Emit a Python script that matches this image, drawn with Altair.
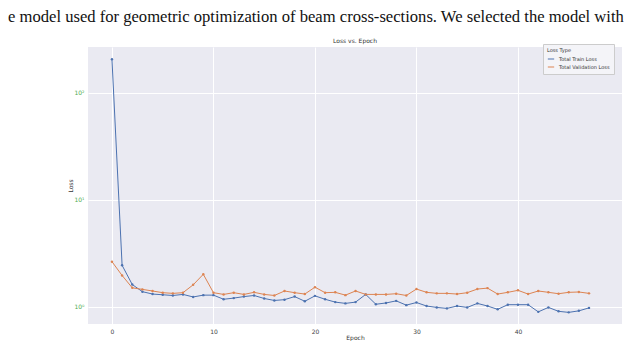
import altair as alt
import pandas as pd

epochs = list(range(48))
train_loss = [207, 2.45, 1.62, 1.39, 1.32, 1.30, 1.28, 1.31, 1.24, 1.29,
              1.29, 1.18, 1.21, 1.25, 1.28, 1.20, 1.15, 1.17, 1.25, 1.13,
              1.27, 1.18, 1.11, 1.08, 1.11, 1.31, 1.06, 1.09, 1.14, 1.04,
              1.10, 1.02, 0.99, 0.97, 1.02, 0.99, 1.08, 1.02, 0.95, 1.05,
              1.05, 1.05, 0.90, 0.99, 0.91, 0.89, 0.92, 0.98]
val_loss = [2.65, 1.97, 1.51, 1.46, 1.41, 1.36, 1.34, 1.36, 1.61, 2.02,
            1.36, 1.31, 1.36, 1.31, 1.37, 1.31, 1.28, 1.41, 1.36, 1.32,
            1.53, 1.36, 1.37, 1.29, 1.41, 1.31, 1.31, 1.31, 1.33, 1.28,
            1.47, 1.37, 1.34, 1.34, 1.32, 1.36, 1.47, 1.50, 1.32, 1.37,
            1.43, 1.32, 1.41, 1.37, 1.33, 1.37, 1.38, 1.34]
series_names = ["Total Train Loss", "Total Validation Loss"]
series_colors = ["#4C72B0", "#DD8452"]
x_ticks = [0, 10, 20, 30, 40]
y_ticks = [1, 10, 100]
chart_title = "Loss vs. Epoch"
paper_text = "e model used for geometric optimization of beam cross-sections. We selected the model with"

df = pd.DataFrame({
    "Epoch": epochs * 2,
    "Loss": train_loss + val_loss,
    "Loss Type": [series_names[0]] * len(epochs) + [series_names[1]] * len(epochs),
})

lines = alt.Chart(df).mark_line(strokeWidth=1, point=alt.OverlayMarkDef(size=6, filled=True)).encode(
    x=alt.X("Epoch:Q", scale=alt.Scale(domain=[-2.36, 50.25], nice=False, zero=False),
            axis=alt.Axis(values=x_ticks, title="Epoch", format="d")),
    y=alt.Y("Loss:Q", scale=alt.Scale(type="log", domain=[0.693, 269], nice=False),
            axis=alt.Axis(values=y_ticks, title="Loss",
                          labelExpr="datum.value == 1 ? '10⁰' : datum.value == 10 ? '10¹' : '10²'",
                          labelColor="#4fae4f")),
    color=alt.Color("Loss Type:N",
                    scale=alt.Scale(domain=series_names, range=series_colors),
                    legend=alt.Legend(orient="none", legendX=455, legendY=-3,
                                      title="Loss Type", titleFontSize=5, labelFontSize=5,
                                      titleFontWeight="normal", titleColor="#333",
                                      labelColor="#333", symbolType="stroke",
                                      symbolSize=40, symbolStrokeWidth=1,
                                      fillColor="#F4F4F8", strokeColor="#cccccc",
                                      padding=4, rowPadding=1, titlePadding=2)),
)

paper = alt.Chart(pd.DataFrame({"t": [paper_text]})).mark_text(
    align="left", baseline="middle", font="Liberation Serif", fontSize=16.6, color="#111"
).encode(text="t:N", x=alt.value(-80), y=alt.value(-30))

title_text = alt.Chart(pd.DataFrame({"t": [chart_title]})).mark_text(
    align="center", baseline="bottom", font="DejaVu Sans", fontSize=6, color="#333"
).encode(text="t:N", x=alt.value(267), y=alt.value(-3))

chart = alt.layer(lines, paper, title_text).properties(
    width=534, height=277,
    autosize=alt.AutoSizeParams(type="none"),
    padding={"left": 80, "top": 39, "right": 10, "bottom": 17},
).configure(font="DejaVu Sans").configure_view(fill="#EAEAF2", stroke=None).configure_axis(
    grid=True, gridColor="white", gridWidth=1, domain=False, ticks=False,
    labelFont="DejaVu Sans", labelFontSize=6, labelColor="#444", labelPadding=4,
    titleFont="DejaVu Sans", titleFontSize=6, titleFontWeight="normal", titleColor="#333",
    titlePadding=0,
)

chart.save("out.html", embed_options={"renderer": "svg", "actions": False})
